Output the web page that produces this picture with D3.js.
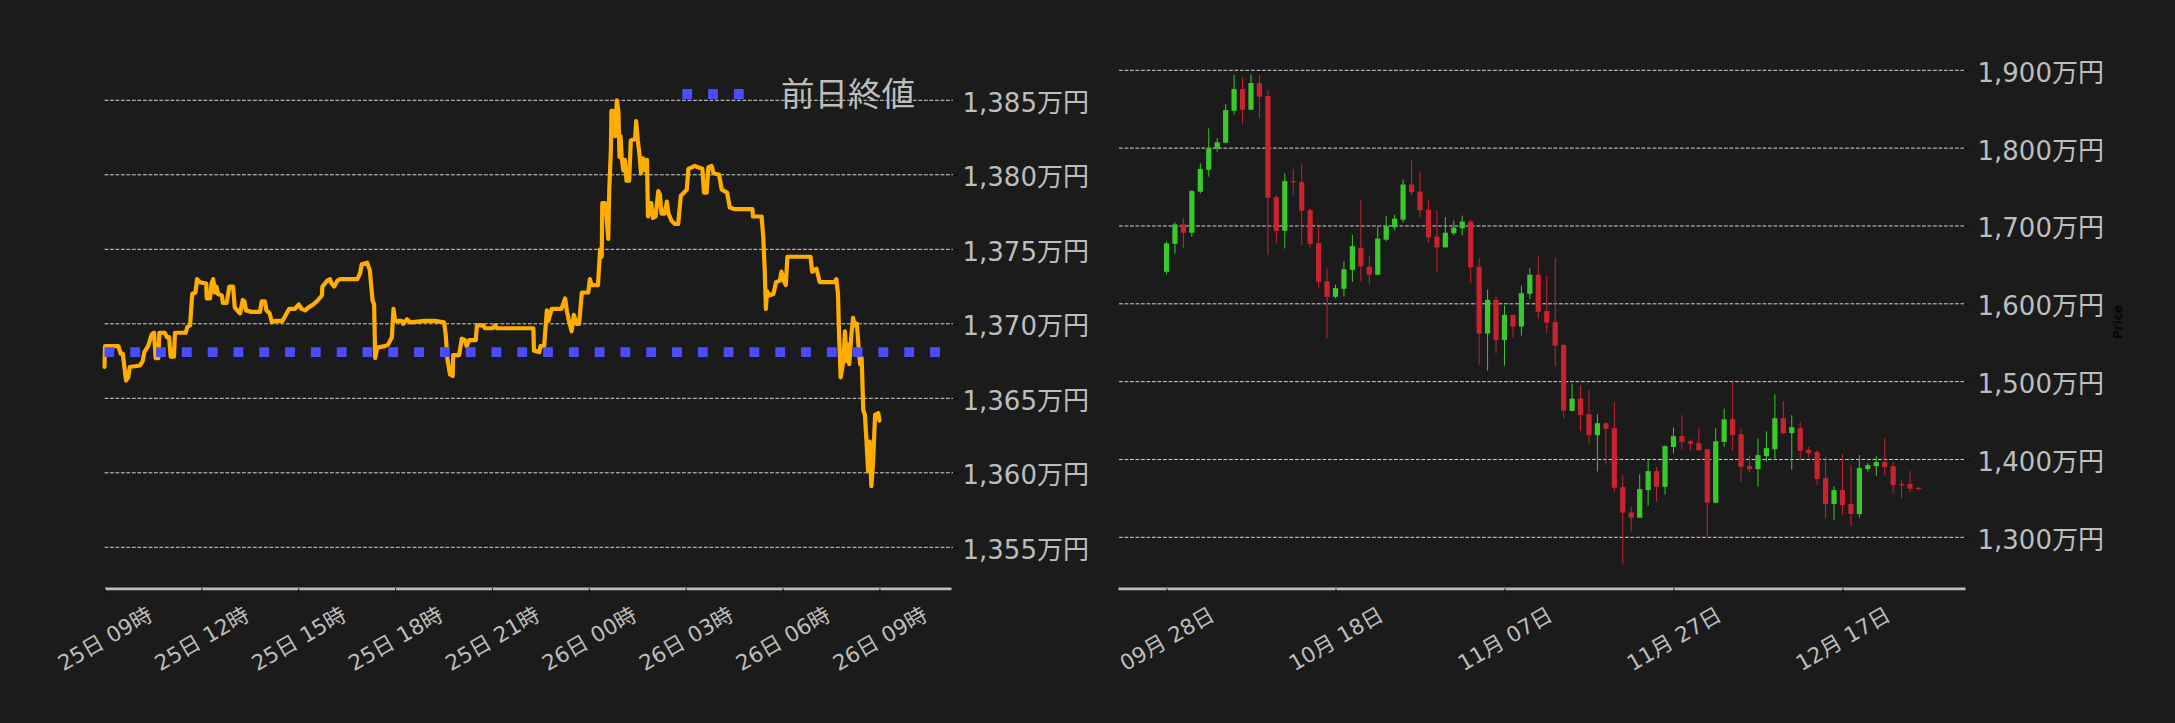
<!DOCTYPE html>
<html>
<head>
<meta charset="utf-8">
<script src="https://cdn.jsdelivr.net/npm/d3@7"></script>
<style>
html,body{margin:0;padding:0;background:#1b1b1b;}
svg{display:block;}
</style>
</head>
<body>
<svg id="chart" width="2175" height="723"></svg>
<script>
// ---------- DATA ----------
// Intraday (left): minutes after 25日 09:00, price in 万円
const intradayStart = "2025-12-25 09:00";
const lineMinutes = [
  0,1,4,26,30,34,40,44,47,66,
  71,74,81,88,92,95,100,102,112,116,
  120,123,129,131,151,154,159,163,169,172,
  176,189,190,196,199,202,205,208,211,218,
  220,227,232,239,242,249,252,257,260,263,
  273,289,292,298,301,307,311,317,331,337,
  343,354,361,366,373,379,388,397,404,405,
  414,419,422,427,433,438,470,475,478,488,
  493,498,501,503,507,521,527,534,537,540,
  552,555,562,568,595,614,631,634,637,642,
  647,648,659,664,670,673,678,690,692,704,
  707,721,726,729,797,798,808,810,817,822,
  825,831,849,856,859,863,868,872,877,882,
  887,899,902,905,917,921,924,925,930,933,
  936,938,941,942,945,949,952,955,957,959,
  961,964,967,970,975,978,986,988,991,994,
  997,1001,1005,1008,1010,1016,1019,1024,1029,1032,
  1035,1041,1045,1048,1054,1060,1066,1071,1082,1085,
  1097,1103,1111,1114,1119,1122,1128,1132,1142,1147,
  1157,1162,1170,1204,1205,1221,1224,1227,1229,1231,
  1235,1243,1248,1255,1258,1262,1266,1269,1312,1315,
  1323,1329,1357,1360,1363,1365,1368,1373,1376,1379,
  1382,1384,1388,1391,1394,1398,1401,1404,1407,1410,
  1413,1416,1419,1422,1425,1428,1432,1438,1440
];
const lineValues = [
  1367.1,1368.5,1368.5,1368.5,1368.0,1368.0,1366.2,1366.4,1367.1,1367.2,
  1367.5,1368.1,1368.5,1369.3,1369.4,1367.7,1367.7,1369.4,1369.4,1369.1,
  1369.1,1367.8,1367.8,1369.4,1369.4,1369.8,1369.9,1372.0,1372.1,1373.0,
  1372.8,1372.7,1371.7,1371.7,1372.7,1373.0,1372.1,1372.5,1372.0,1371.9,
  1371.4,1371.4,1372.5,1372.5,1371.1,1370.8,1370.7,1371.6,1371.5,1370.9,
  1370.8,1370.8,1371.5,1371.5,1370.9,1370.7,1370.1,1370.2,1370.2,1370.6,
  1371.0,1371.0,1371.3,1371.0,1370.9,1371.1,1371.3,1371.6,1371.9,1372.5,
  1372.9,1373.0,1372.7,1372.5,1372.9,1373.0,1373.0,1373.4,1374.0,1374.1,
  1373.6,1371.6,1371.3,1367.7,1368.4,1368.5,1368.6,1369.1,1371.0,1370.2,
  1370.2,1370.0,1370.3,1370.1,1370.2,1370.2,1370.1,1369.3,1367.7,1366.6,
  1366.5,1367.9,1367.9,1369.0,1368.9,1368.5,1368.9,1368.9,1369.9,1369.9,
  1369.7,1369.7,1369.9,1369.7,1369.7,1368.2,1368.1,1368.5,1368.5,1370.9,
  1370.2,1371.0,1371.0,1371.7,1370.9,1370.2,1369.5,1370.6,1370.0,1370.0,
  1372.1,1372.1,1373.0,1372.6,1372.6,1375.0,1374.5,1378.1,1378.1,1377.2,
  1375.7,1379.0,1381.7,1384.3,1384.3,1382.6,1385.0,1384.3,1381.2,1382.6,
  1381.2,1380.3,1381.0,1379.6,1379.6,1382.3,1382.4,1383.6,1382.3,1381.4,
  1380.1,1381.1,1380.3,1381.0,1377.2,1378.1,1377.1,1377.2,1378.9,1378.7,
  1377.4,1377.4,1378.2,1377.4,1376.9,1376.7,1376.7,1378.6,1379.0,1380.4,
  1380.6,1380.5,1380.4,1378.8,1378.8,1380.5,1380.6,1380.1,1380.0,1379.0,
  1378.8,1377.8,1377.7,1377.7,1377.2,1377.2,1375.9,1373.5,1371.0,1372.2,
  1371.9,1372.0,1372.8,1372.9,1373.5,1372.9,1372.6,1374.5,1374.5,1373.5,
  1373.7,1372.8,1372.8,1373.0,1372.0,1369.3,1366.4,1367.5,1369.5,1367.5,
  1368.6,1367.3,1369.3,1370.4,1369.9,1370.0,1368.6,1367.3,1367.7,1364.2,
  1363.9,1362.1,1360.1,1362.1,1359.1,1360.6,1363.9,1364.0,1363.5
];
const prevClose = 1368.1;
const legendLabel = "前日終値";
const leftYTicks = [1355,1360,1365,1370,1375,1380,1385];

// Daily candles (right): one per day starting 2025-09-28
const candleStart = "2025-09-28";
const opens = [
  1641.1,1677.1,1702.0,1691.3,1744.0,1772.3,1799.7,1807.0,1848.1,1876.0,
  1849.4,1883.7,1867.0,1737.1,1693.8,1757.7,1756.4,1720.4,1678.0,1629.1,
  1609.0,1619.3,1643.7,1672.0,1647.6,1637.3,1682.4,1698.3,1708.2,1753.2,
  1744.2,1721.0,1686.3,1672.5,1690.6,1697.0,1705.6,1647.6,1561.8,1605.1,
  1553.6,1585.8,1570.8,1612.9,1637.3,1590.7,1576.6,1547.1,1462.4,1478.2,
  1458.1,1431.2,1446.6,1440.2,1364.5,1332.0,1325.2,1360.7,1385.0,1364.9,
  1416.2,1429.9,1423.5,1420.9,1413.2,1344.4,1422.6,1451.7,1432.5,1391.4,
  1387.6,1404.3,1413.2,1453.0,1433.8,1440.2,1412.4,1409.4,1376.1,1342.7,
  1360.7,1342.7,1329.9,1387.6,1391.4,1396.6,1391.4,1368.4,1368.4,1363.7
];
const highs = [
  1679.7,1704.6,1709.7,1746.1,1780.4,1825.4,1812.6,1856.3,1894.0,1891.4,
  1894.9,1894.0,1874.7,1739.7,1767.6,1773.1,1780.4,1722.6,1699.0,1645.4,
  1624.8,1654.8,1688.5,1733.9,1661.8,1699.6,1713.3,1714.6,1759.7,1784.1,
  1769.5,1733.9,1719.7,1711.6,1706.9,1713.3,1708.2,1658.8,1618.0,1609.4,
  1597.4,1586.0,1623.2,1645.9,1660.5,1635.7,1659.7,1548.5,1497.4,1495.3,
  1488.9,1458.1,1447.9,1473.5,1379.9,1338.9,1380.8,1399.1,1390.2,1417.9,
  1441.0,1456.8,1426.1,1441.0,1413.5,1440.2,1465.4,1500.0,1439.7,1405.5,
  1426.9,1436.3,1483.8,1474.8,1456.8,1447.9,1416.2,1412.0,1403.0,1365.8,
  1406.8,1392.7,1405.5,1395.3,1404.3,1427.3,1396.6,1373.5,1385.0,1364.5
];
const lows = [
  1637.7,1664.7,1671.1,1686.1,1741.8,1763.3,1795.4,1805.7,1843.4,1831.4,
  1849.0,1838.3,1662.6,1677.6,1671.1,1739.3,1675.3,1672.0,1619.7,1555.4,
  1606.8,1609.4,1628.0,1628.8,1624.5,1637.0,1680.3,1694.4,1704.7,1739.5,
  1711.2,1678.1,1641.6,1672.0,1688.0,1688.0,1626.6,1521.5,1514.2,1536.5,
  1520.6,1556.6,1559.2,1606.0,1580.7,1562.1,1519.2,1453.0,1462.0,1436.7,
  1419.2,1384.6,1393.2,1358.5,1265.4,1307.2,1325.0,1340.6,1345.7,1355.0,
  1407.7,1412.8,1411.1,1411.1,1300.0,1343.6,1416.2,1411.1,1371.4,1384.2,
  1364.9,1397.0,1399.1,1432.5,1386.7,1399.1,1402.1,1367.0,1324.8,1322.6,
  1328.6,1314.9,1325.2,1384.2,1379.0,1379.9,1356.0,1349.6,1358.5,1359.8
];
const closes = [
  1677.6,1702.0,1691.3,1744.8,1773.1,1799.7,1807.4,1849.0,1876.0,1849.4,
  1883.7,1866.1,1736.3,1693.8,1757.7,1756.3,1719.5,1677.1,1628.3,1609.0,
  1620.1,1644.4,1674.0,1648.1,1637.3,1683.7,1699.6,1709.4,1753.2,1743.3,
  1720.2,1685.4,1672.5,1691.4,1697.9,1705.6,1646.8,1561.8,1605.1,1553.6,
  1585.8,1570.8,1613.7,1637.3,1589.7,1575.7,1546.2,1462.7,1478.2,1457.3,
  1431.2,1446.6,1439.3,1363.7,1331.6,1325.2,1361.9,1385.0,1364.9,1417.1,
  1429.9,1422.6,1420.1,1412.0,1344.4,1423.5,1451.7,1431.2,1390.6,1387.6,
  1405.5,1414.5,1453.0,1433.8,1441.4,1411.1,1408.1,1374.8,1342.7,1360.7,
  1341.4,1329.9,1388.9,1392.7,1396.6,1390.2,1367.1,1367.1,1362.4,1362.4
];
const rightYTicks = [1300,1400,1500,1600,1700,1800,1900];
const rightXTicks = ["2025-09-28","2025-10-18","2025-11-07","2025-11-27","2025-12-17"];
const rightYLabel = "Price";

// ---------- STYLE ----------
const FONT = "'DejaVu Sans','Noto Sans CJK JP',sans-serif";
const TEXT = "#bdbdbd";
const GRID = "#d2d2d2";
const ORANGE = "#ffad00";
const BLUE = "#4b4bff";
const UP = "#3ac92b", DOWN = "#c8232e";

const svg = d3.select("#chart");
svg.append("rect").attr("width",2175).attr("height",723).attr("fill","#1b1b1b");

const parseMin = d3.timeParse("%Y-%m-%d %H:%M");
const parseDay = d3.timeParse("%Y-%m-%d");
const yen = v => d3.format(",")(v) + "万円";

// ---------- LEFT: intraday line ----------
const t0 = parseMin(intradayStart);
const xL = d3.scaleTime()
  .domain([t0, d3.timeMinute.offset(t0, 1573)])
  .range([104.5, 951]);
const yL = d3.scaleLinear().domain([1355, 1385]).range([547.3, 100.3]);
const left = svg.append("g");

left.append("g").selectAll("line").data(leftYTicks).join("line")
  .attr("x1", 104.5).attr("x2", 953)
  .attr("y1", d => yL(d)).attr("y2", d => yL(d))
  .attr("stroke", GRID).attr("stroke-width", 1).attr("stroke-dasharray", "3.8,1.7");

const lineData = lineMinutes.map((m, i) => ({t: d3.timeMinute.offset(t0, m), v: lineValues[i]}));
left.append("path").datum(lineData)
  .attr("fill", "none").attr("stroke", ORANGE).attr("stroke-width", 4.2)
  .attr("stroke-linejoin", "round").attr("stroke-linecap", "round")
  .attr("d", d3.line().x(d => xL(d.t)).y(d => yL(d.v)));

left.append("line")
  .attr("x1", xL.range()[0]).attr("x2", xL.range()[1])
  .attr("y1", yL(prevClose)).attr("y2", yL(prevClose))
  .attr("stroke", BLUE).attr("stroke-width", 9.8).attr("stroke-dasharray", "9.8,16");

// left y axis (right side)
const yAxL = left.append("g").attr("transform", "translate(953,0)")
  .call(d3.axisRight(yL).tickValues(leftYTicks).tickFormat(yen).tickSize(5).tickPadding(4.5));
yAxL.select(".domain").remove();
yAxL.selectAll(".tick line").attr("stroke", "#0a0a0a");
yAxL.selectAll(".tick text").attr("fill", TEXT).attr("font-family", FONT).attr("font-size", 26)
  .attr("dy", null).attr("dominant-baseline", "central").attr("y", 2);

// left x axis
const xAxL = left.append("g").attr("transform", "translate(0,588.3)")
  .call(d3.axisBottom(xL).ticks(d3.timeHour.every(3)).tickFormat(d3.timeFormat("%d日 %H時")).tickSize(5).tickSizeOuter(0));

// legend
const lg = left.append("g");
lg.append("line").attr("x1", 682.3).attr("x2", 744).attr("y1", 94).attr("y2", 94)
  .attr("stroke", BLUE).attr("stroke-width", 9.8).attr("stroke-dasharray", "9.8,16");
lg.append("text").attr("x", 781).attr("y", 94).attr("dominant-baseline", "central")
  .attr("fill", TEXT).attr("font-family", FONT).attr("font-size", 33.5).text(legendLabel);

// ---------- RIGHT: daily candles ----------
const d0 = parseDay(candleStart);
const DAY = 864e5;
const xR = d3.scaleTime()
  .domain([new Date(+d0 - 5.74 * DAY), new Date(+d0 + 94.5 * DAY)])
  .range([1118, 1965]);
const yR = d3.scaleLinear().domain([1300, 1900]).range([537.3, 70.3]);
const right = svg.append("g");

right.append("g").selectAll("line").data(rightYTicks).join("line")
  .attr("x1", 1119).attr("x2", 1964)
  .attr("y1", d => yR(d)).attr("y2", d => yR(d))
  .attr("stroke", GRID).attr("stroke-width", 1).attr("stroke-dasharray", "3.8,1.7");

const candles = opens.map((o, i) => ({
  date: d3.timeDay.offset(d0, i), o, h: highs[i], l: lows[i], c: closes[i]
}));
const cg = right.append("g").selectAll("g").data(candles).join("g");
cg.append("line")
  .attr("x1", d => xR(d.date)).attr("x2", d => xR(d.date))
  .attr("y1", d => yR(d.h)).attr("y2", d => yR(d.l))
  .attr("stroke", d => d.c >= d.o ? UP : DOWN).attr("stroke-width", 1);
cg.append("rect")
  .attr("x", d => xR(d.date) - 2.6).attr("width", 5.2)
  .attr("y", d => yR(Math.max(d.o, d.c)))
  .attr("height", d => Math.max(1.2, Math.abs(yR(d.o) - yR(d.c))))
  .attr("fill", d => d.c >= d.o ? UP : DOWN);

const yAxR = right.append("g").attr("transform", "translate(1965,0)")
  .call(d3.axisRight(yR).tickValues(rightYTicks).tickFormat(yen).tickSize(5).tickPadding(7.5));
yAxR.select(".domain").remove();
yAxR.selectAll(".tick line").attr("stroke", "#0a0a0a");
yAxR.selectAll(".tick text").attr("fill", TEXT).attr("font-family", FONT).attr("font-size", 26)
  .attr("dy", null).attr("dominant-baseline", "central").attr("y", 2);

right.append("text")
  .attr("transform", "translate(2122,322) rotate(-90)")
  .attr("text-anchor", "middle").attr("font-family", FONT).attr("font-weight", "bold")
  .attr("font-size", 12).attr("fill", "#060606").text(rightYLabel);

const xAxR = right.append("g").attr("transform", "translate(0,588.3)")
  .call(d3.axisBottom(xR).tickValues(rightXTicks.map(parseDay))
    .tickFormat(d3.timeFormat("%m月 %d日")).tickSize(5).tickSizeOuter(0));

// style both x axes
[xAxL, xAxR].forEach(ax => {
  ax.select(".domain").attr("stroke", "#bdbdbd").attr("stroke-width", 2.7);
  ax.selectAll(".tick line").attr("stroke", "#0a0a0a").attr("stroke-width", 1);
  ax.selectAll(".tick text")
    .attr("fill", TEXT).attr("font-family", FONT).attr("font-size", 21.5)
    .attr("dy", null).attr("y", null)
    .attr("text-anchor", "middle").attr("dominant-baseline", "central")
    .each(function() {
      const w = this.getComputedTextLength();
      const fs = 21.5;
      const yc = 17 + (w * 0.5 + fs * 0.8 * 0.866) / 2;
      d3.select(this).attr("transform", `translate(0,${yc}) rotate(-30)`);
    });
});
</script>
</body>
</html>
